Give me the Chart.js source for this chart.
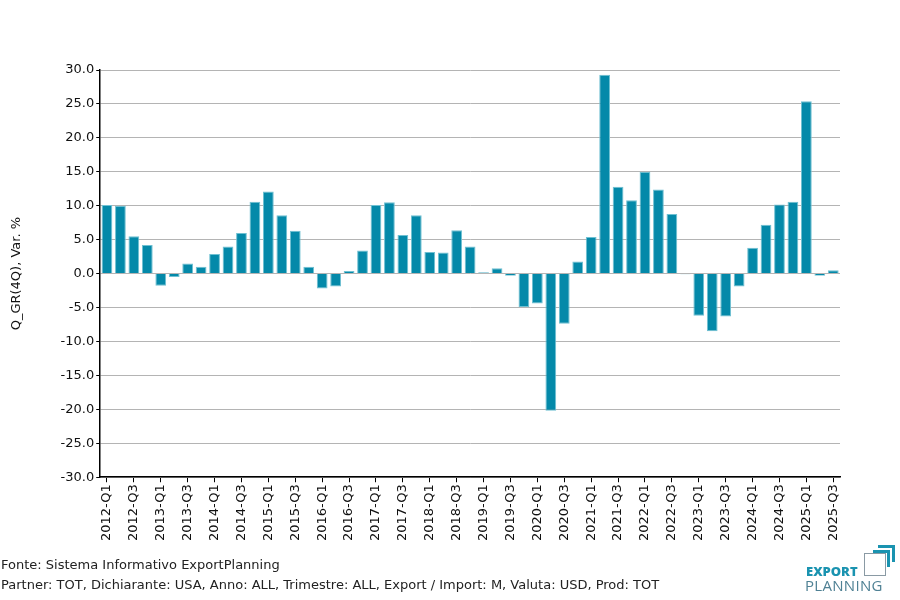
<!DOCTYPE html>
<html>
<head>
<meta charset="utf-8">
<script src="https://cdn.jsdelivr.net/npm/chart.js@4.4.1/dist/chart.umd.min.js"></script>
<style>
  body { margin: 0; background: #fff; }
  #wrap { position: relative; width: 900px; height: 600px; }
  .foot { position: absolute; left: 1px; font-family: "DejaVu Sans", sans-serif; font-size: 13px; color: #222; white-space: nowrap; }
  .logo { position: absolute; left: 805px; top: 544px; width: 92px; height: 54px; font-family: "Open Sans", sans-serif; }
  .logo .box { position: absolute; left: 59px; top: 9px; width: 20px; height: 21px; border: 1.5px solid #8a9aa4; }
  .logo .a1 { position: absolute; left: 68px; top: 6px; width: 14px; height: 14px; border-top: 3px solid #1a93b0; border-right: 3px solid #1a93b0; }
  .logo .a2 { position: absolute; left: 73px; top: 1px; width: 14px; height: 14px; border-top: 3px solid #1a93b0; border-right: 3px solid #1a93b0; }
  .logo .t1 { position: absolute; left: 1px; top: 18px; font-weight: 800; font-size: 13px; color: #1a93b0; }
  .logo .t2 { position: absolute; left: 0; top: 31px; font-size: 15px; letter-spacing: 0.3px; color: #4f8194; }
</style>
</head>
<body>
<div id="wrap">
  <canvas id="chart" width="900" height="600"></canvas>
  <div class="foot" style="top:557px">Fonte: Sistema Informativo ExportPlanning</div>
  <div class="foot" style="top:577px">Partner: TOT, Dichiarante: USA, Anno: ALL, Trimestre: ALL, Export / Import: M, Valuta: USD, Prod: TOT</div>
  <div class="logo"><div class="box"></div><div class="a1"></div><div class="a2"></div><div class="t1">EXPORT</div><div class="t2">PLANNING</div></div>
</div>
<script>
const years = [2012, 2013, 2014, 2015, 2016, 2017, 2018, 2019, 2020, 2021, 2022, 2023, 2024, 2025];
const quarters = ['Q1', 'Q2', 'Q3', 'Q4'];
const labels = [];
years.forEach(y => quarters.forEach(q => labels.push(y + '-' + q)));
labels.length = 55; // ultimo trimestre: 2025-Q3

const values = [
  10.1, 10.0, 5.5, 4.2, -1.8, -0.5, 1.5, 1.0,
  2.9, 4.0, 6.0, 10.6, 12.1, 8.6, 6.3, 1.0,
  -2.2, -1.9, 0.4, 3.4, 10.1, 10.5, 5.7, 8.6,
  3.2, 3.1, 6.4, 4.0, 0.2, 0.8, -0.3, -4.9,
  -4.4, -20.2, -7.4, 1.8, 5.4, 29.3, 12.8, 10.8,
  15.0, 12.4, 8.8, -0.1, -6.2, -8.5, -6.3, -1.9,
  3.8, 7.2, 10.2, 10.6, 25.4, -0.3, 0.5
];

const yMin = -30;
const yMax = 30;
const yStep = 5;

const font = { family: 'DejaVu Sans', size: 13 };

new Chart(document.getElementById('chart'), {
  type: 'bar',
  data: {
    labels: labels,
    datasets: [{
      data: values,
      backgroundColor: '#0489a9',
      borderColor: '#6fc0d2',
      borderWidth: 1,
      barPercentage: 0.8,
      categoryPercentage: 1.0
    }]
  },
  options: {
    responsive: false,
    animation: false,
    layout: {
      padding: { top: 70, right: 60, bottom: 57, left: 9 }
    },
    plugins: {
      legend: { display: false },
      tooltip: { enabled: false }
    },
    scales: {
      x: {
        border: { color: '#000', width: 1.5 },
        grid: { display: true, drawOnChartArea: false, offset: false, color: '#000', tickLength: 5 },
        afterBuildTicks: scale => {
          scale.ticks = scale.ticks.filter(t => t.value % 2 === 0);
        },
        ticks: {
          autoSkip: false,
          maxRotation: 90,
          minRotation: 90,
          color: '#111',
          font: font,
          padding: 2
        }
      },
      y: {
        min: yMin,
        max: yMax,
        border: { color: '#000', width: 1.5 },
        grid: { color: '#b4b4b4', lineWidth: 1, tickLength: 4, tickColor: '#000' },
        ticks: {
          stepSize: yStep,
          color: '#111',
          font: font,
          padding: 2,
          callback: v => v.toFixed(1)
        },
        title: {
          display: true,
          text: 'Q_GR(4Q), Var. %',
          color: '#111',
          font: font,
          padding: { top: 0, bottom: 34 }
        }
      }
    }
  }
});
</script>
</body>
</html>
